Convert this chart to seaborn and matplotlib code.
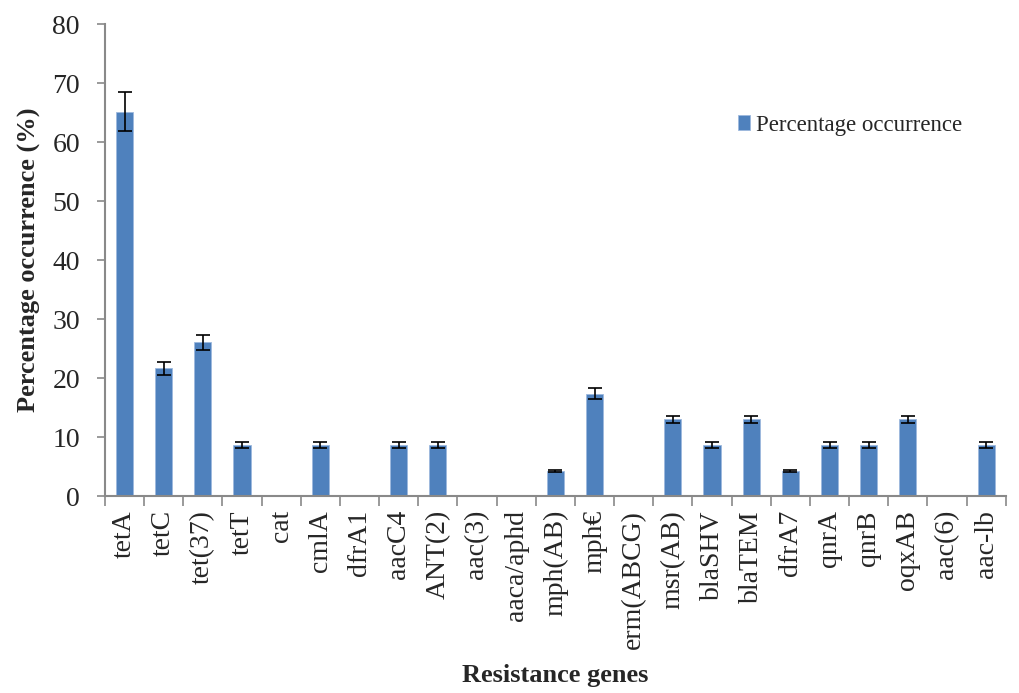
import numpy as np
import pandas as pd
import matplotlib
matplotlib.use("Agg")
import matplotlib.pyplot as plt
import seaborn as sns

# --- data ---
genes = ["tetA", "tetC", "tet(37)", "tetT", "cat", "cmlA", "dfrA1", "aacC4",
         "ANT(2)", "aac(3)", "aaca/aphd", "mph(AB)", "mph€", "erm(ABCG)",
         "msr(AB)", "blaSHV", "blaTEM", "dfrA7", "qnrA", "qnrB", "oqxAB",
         "aac(6)", "aac-lb"]
occurrence = [65.2, 21.7, 26.1, 8.7, 0, 8.7, 0, 8.7,
              8.7, 0, 0, 4.3, 17.4, 0,
              13.0, 8.7, 13.0, 4.3, 8.7, 8.7, 13.0,
              0, 8.7]
err = [3.26, 1.1, 1.3, 0.45, 0, 0.45, 0, 0.45,
       0.45, 0, 0, 0.22, 0.9, 0,
       0.65, 0.45, 0.65, 0.22, 0.45, 0.45, 0.65,
       0, 0.45]

BAR_COLOR = "#4F81BD"
AXIS_GREY = "#898989"

sns.set_style("white")
plt.rcParams["font.family"] = ["Liberation Serif", "DejaVu Serif"]

df = pd.DataFrame({"gene": genes, "pct": occurrence})

fig = plt.figure(figsize=(10.19, 6.93), dpi=100)
ax = fig.add_axes([0.103, 0.284, 0.884, 0.681])

sns.barplot(data=df, x="gene", y="pct", color=BAR_COLOR, width=0.44,
            edgecolor="#9DB9DD", linewidth=0.6, saturation=1,
            label="Percentage occurrence", ax=ax)

xs = np.arange(len(genes))
mask = np.array(err) > 0
ax.errorbar(xs[mask], np.array(occurrence)[mask], yerr=np.array(err)[mask],
            fmt="none", ecolor="black", elinewidth=1.2, capsize=5, capthick=1.2)

ax.set_xlim(-0.5, len(genes) - 0.5)
ax.set_ylim(0, 80)
ax.set_yticks(range(0, 81, 10))
ax.tick_params(axis="y", labelsize=20, length=6, width=1.2, color=AXIS_GREY,
               direction="out", left=True, pad=12)
ax.set_xticks(xs)
ax.set_xticklabels(genes, rotation=90, fontsize=20)
ax.tick_params(axis="x", length=0, pad=10)
# category separator ticks below the axis
ax.set_xticks(np.arange(-0.5, len(genes), 1), minor=True)
ax.tick_params(axis="x", which="minor", length=7, width=1.2, color=AXIS_GREY,
               direction="out", bottom=True)

for side in ["top", "right"]:
    ax.spines[side].set_visible(False)
for side in ["left", "bottom"]:
    ax.spines[side].set_color(AXIS_GREY)
    ax.spines[side].set_linewidth(1.5)

ax.set_ylabel("Percentage occurrence (%)", fontsize=19, fontweight="bold", labelpad=8)
ax.set_xlabel("Resistance genes", fontsize=19, fontweight="bold", labelpad=11)

ax.legend(loc="center left", bbox_to_anchor=(0.68, 0.786), frameon=False,
          fontsize=16.5, handlelength=0.5, handleheight=0.6, handletextpad=0.3)

fig.savefig("out.png", dpi=100)
plt.close(fig)
